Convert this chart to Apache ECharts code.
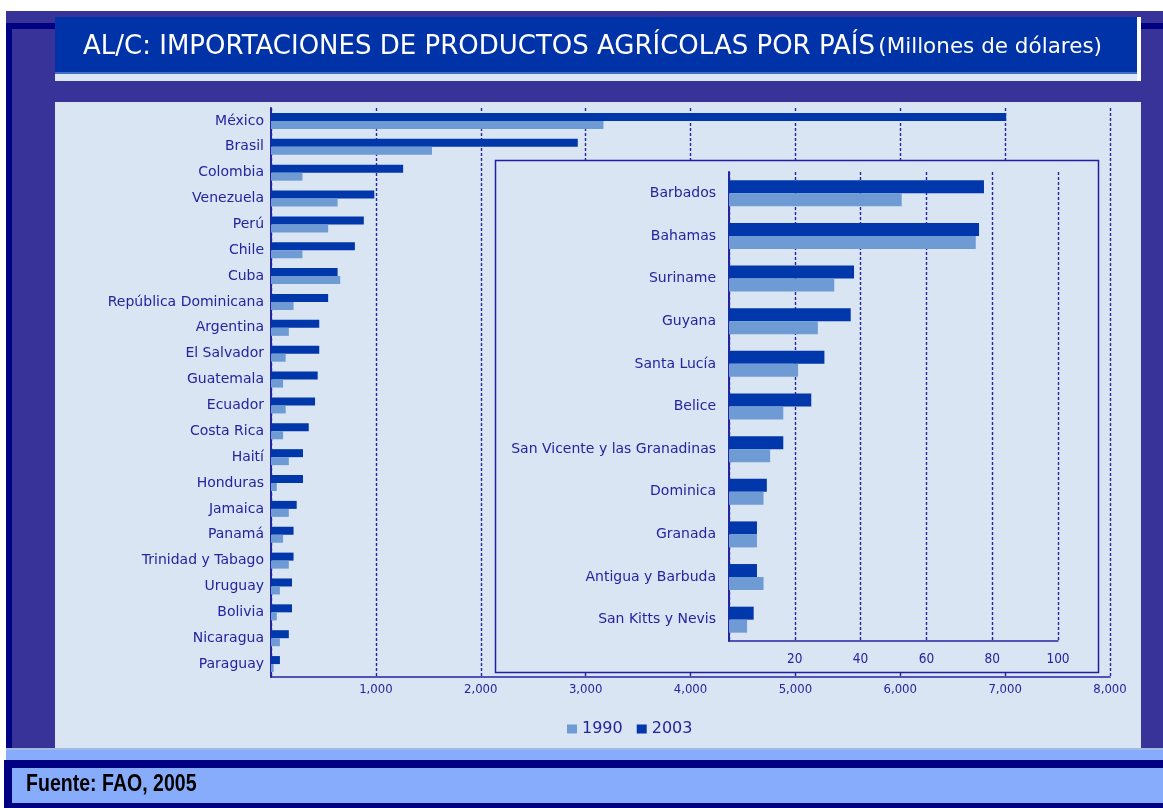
<!DOCTYPE html>
<html>
<head>
<meta charset="utf-8">
<script src="https://cdn.jsdelivr.net/npm/echarts@6/dist/echarts.min.js"></script>
<style>
  html, body { margin: 0; padding: 0; background: #fff; }
  #chart { width: 1163px; height: 808px; }
</style>
</head>
<body>
<div id="chart"></div>
<script>
// main chart, top to bottom
const countries = ['México', 'Brasil', 'Colombia', 'Venezuela', 'Perú', 'Chile', 'Cuba',
    'República Dominicana', 'Argentina', 'El Salvador', 'Guatemala', 'Ecuador', 'Costa Rica',
    'Haití', 'Honduras', 'Jamaica', 'Panamá', 'Trinidad y Tabago', 'Uruguay', 'Bolivia',
    'Nicaragua', 'Paraguay']
const imports1990 = [3170, 1535, 300, 635, 545, 300, 660, 215, 170, 140, 115, 140, 115,
    170, 55, 170, 115, 170, 85, 55, 85, 25]
const imports2003 = [7010, 2925, 1260, 985, 885, 800, 635, 545, 460, 460, 445, 420, 360,
    305, 305, 245, 215, 215, 200, 200, 170, 85]

// inset (small economies)
const islands = ['Barbados', 'Bahamas', 'Suriname', 'Guyana', 'Santa Lucía', 'Belice',
    'San Vicente y las Granadinas', 'Dominica', 'Granada', 'Antigua y Barbuda', 'San Kitts y Nevis']
const islands1990 = [52.5, 75, 32, 27, 21, 16.5, 12.5, 10.5, 8.5, 10.5, 5.5]
const islands2003 = [77.5, 76, 38, 37, 29, 25, 16.5, 11.5, 8.5, 8.5, 7.5]

const mainMax = 8000, mainStep = 1000
const insetMax = 100, insetStep = 20
const years = ['1990', '2003']

const DARK = '#0037ab'
const LIGHT = '#6f9bd5'
const INK = '#2424a0'
const PANEL = '#dae5f3'
const FRAME = '#373398'
const NAVY = '#000083'
const FOOT = '#88acfc'

const fmt = v => (v === 0 ? '' : v.toLocaleString('en-US'))

const chart = echarts.init(document.getElementById('chart'))

const rect = (x, y, w, h, fill, z) => ({
    type: 'rect', z: z || 0, silent: true,
    shape: { x: x, y: y, width: w, height: h },
    style: { fill: fill }
})

const option = {
    animation: false,
    backgroundColor: '#ffffff',
    graphic: [
        rect(6, 11, 1157, 739, FRAME),
        rect(6, 23, 49, 6, NAVY),
        rect(1141, 23, 22, 6, NAVY),
        rect(6, 23, 6, 727, NAVY),
        rect(55, 17, 1082, 57, '#0033a8'),
        rect(55, 72, 1082, 2, '#3f6fc8'),
        rect(55, 74, 1086, 7, '#dce5f3'),
        rect(1137, 17, 4, 64, '#ffffff'),
        rect(55, 102, 1086, 646, PANEL),
        rect(6, 748, 1157, 2, '#a3bbe4'),
        rect(6, 750, 1157, 10, FOOT),
        rect(4, 760, 1159, 48, NAVY),
        rect(12, 768, 1151, 35, FOOT),
        {
            type: 'text', left: 83, top: 34, silent: true,
            style: {
                text: '{a|AL/C: IMPORTACIONES DE PRODUCTOS AGRÍCOLAS POR PAÍS} {b|(Millones de dólares)}',
                rich: {
                    a: { fill: '#ffffff', fontSize: 26, fontFamily: 'DejaVu Sans' },
                    b: { fill: '#ffffff', fontSize: 21.5, fontFamily: 'DejaVu Sans' }
                }
            }
        },
        {
            type: 'text', left: 26, top: 773, silent: true, scaleX: 0.85,
            style: {
                text: 'Fuente: FAO, 2005', fill: '#000000', fontSize: 23, fontWeight: 'bold',
                fontFamily: "'Liberation Sans', sans-serif"
            }
        },
        {
            type: 'rect', z: 3, silent: true,
            shape: { x: 495.5, y: 160.5, width: 603, height: 512 },
            style: { fill: PANEL, stroke: '#1f1fa0', lineWidth: 1.5 }
        }
    ],
    legend: {
        data: years,
        left: 562, top: 716,
        icon: 'rect', itemWidth: 10, itemHeight: 9, itemGap: 14,
        textStyle: { color: INK, fontSize: 16, fontFamily: 'DejaVu Sans' }
    },
    grid: [
        { left: 271, top: 108, width: 839, height: 569 },
        { left: 729, top: 172, width: 329, height: 469 }
    ],
    xAxis: [
        {
            type: 'value', gridIndex: 0, min: 0, max: mainMax, interval: mainStep, z: 1,
            axisLine: { show: true, lineStyle: { color: INK, width: 1.5 } },
            axisTick: { show: false },
            axisLabel: { formatter: fmt, color: INK, fontSize: 13, margin: 6, fontFamily: 'DejaVu Sans Condensed' },
            splitLine: { show: true, lineStyle: { color: INK, width: 1.4, type: [3, 2] } }
        },
        {
            type: 'value', gridIndex: 1, min: 0, max: insetMax, interval: insetStep, z: 4,
            axisLine: { show: true, lineStyle: { color: INK, width: 1.5 } },
            axisTick: { show: false },
            axisLabel: { formatter: fmt, color: INK, fontSize: 13.5, margin: 11, fontFamily: 'DejaVu Sans Condensed' },
            splitLine: { show: true, lineStyle: { color: INK, width: 1.4, type: [3, 2] } }
        }
    ],
    yAxis: [
        {
            type: 'category', gridIndex: 0, data: countries, inverse: true, z: 1,
            axisLine: { show: true, lineStyle: { color: INK, width: 2 } },
            axisTick: { show: false },
            axisLabel: { color: INK, fontSize: 14, margin: 7, fontFamily: 'DejaVu Sans' }
        },
        {
            type: 'category', gridIndex: 1, data: islands, inverse: true, z: 4,
            axisLine: { show: true, lineStyle: { color: INK, width: 2 } },
            axisTick: { show: false },
            axisLabel: { color: INK, fontSize: 14, margin: 13, fontFamily: 'DejaVu Sans' }
        }
    ],
    series: [
        { name: '2003', type: 'bar', xAxisIndex: 0, yAxisIndex: 0, data: imports2003,
          itemStyle: { color: DARK }, barWidth: 8, barGap: '0%', z: 2 },
        { name: '1990', type: 'bar', xAxisIndex: 0, yAxisIndex: 0, data: imports1990,
          itemStyle: { color: LIGHT }, barWidth: 8, barGap: '0%', z: 2 },
        { name: '2003', type: 'bar', xAxisIndex: 1, yAxisIndex: 1, data: islands2003,
          itemStyle: { color: DARK }, barWidth: 13, barGap: '0%', z: 5 },
        { name: '1990', type: 'bar', xAxisIndex: 1, yAxisIndex: 1, data: islands1990,
          itemStyle: { color: LIGHT }, barWidth: 13, barGap: '0%', z: 5 }
    ]
}

chart.setOption(option)
</script>
</body>
</html>
